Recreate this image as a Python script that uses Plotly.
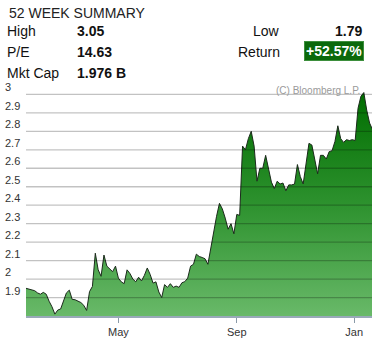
import plotly.graph_objects as go
import pandas as pd

# ---- data ----
START_DATE = "2013-01-25"          # first sample, samples every 3 days
PRICES = [
    1.95, 1.946, 1.943, 1.937, 1.925, 1.918, 1.928, 1.918, 1.88, 1.85,
    1.81, 1.832, 1.838, 1.885, 1.925, 1.94, 1.89, 1.888, 1.882, 1.873,
    1.858, 1.83, 1.932, 1.96, 2.14, 2.05, 2.015, 2.13, 2.07, 2.055,
    2.04, 2.07, 2.005, 1.985, 1.975, 2.05, 2.03, 2.0, 1.985, 2.01,
    1.99, 2.02, 2.06, 2.025, 1.978, 1.985, 1.93, 1.9, 1.97, 1.955,
    1.975, 1.955, 1.962, 1.955, 1.98, 1.986, 2.005, 2.07, 2.08, 2.135,
    2.122, 2.117, 2.11, 2.08, 2.17, 2.27, 2.34, 2.41, 2.38, 2.33,
    2.27, 2.30, 2.245, 2.35, 2.345, 2.72, 2.70, 2.76, 2.80, 2.72,
    2.53, 2.60, 2.60, 2.67, 2.60, 2.525, 2.49, 2.53, 2.515, 2.52,
    2.478, 2.51, 2.51, 2.514, 2.62, 2.555, 2.515, 2.63, 2.735, 2.726,
    2.64, 2.57, 2.67, 2.67, 2.65, 2.69, 2.695, 2.745, 2.83, 2.76,
    2.74, 2.755, 2.75, 2.755, 2.75, 2.925, 2.99, 3.01, 2.915, 2.845,
    2.81,
]
X_RANGE = ["2013-01-25", "2014-01-19 12:00"]
Y_RANGE = [1.8, 3.04]
XTICK_DATES = ["2013-05-01", "2013-09-01", "2014-01-01"]
XTICK_LABELS = ["May", "Sep", "Jan"]
YTICK_VALUES = [1.9, 2.0, 2.1, 2.2, 2.3, 2.4, 2.5, 2.6, 2.7, 2.8, 2.9, 3.0]
YTICK_LABELS = ["1.9", "2", "2.1", "2.2", "2.3", "2.4", "2.5", "2.6", "2.7", "2.8", "2.9", "3"]

SUMMARY_TITLE = "52 WEEK SUMMARY"
HIGH, LOW = "3.05", "1.79"
PE = "14.63"
MKT_CAP = "1.976 B"
RETURN = "+52.57%"
CREDIT = "(C) Bloomberg L.P."

dates = pd.date_range(START_DATE, periods=len(PRICES), freq="3D")

FONT = "Liberation Sans, Arial, sans-serif"
M_L, M_R, M_T, M_B = 26, 6, 87, 22

fig = go.Figure()
fig.add_trace(go.Scatter(
    x=dates, y=PRICES, mode="lines",
    line=dict(color="#1b2a1b", width=1),
    fill="tozeroy",
    fillgradient=dict(type="vertical", start=Y_RANGE[0], stop=3.0,
                      colorscale=[[0, "#6cbb6c"], [0.5, "#2f9330"], [1, "#016e01"]]),
    hoverinfo="skip",
))

shapes = []
for v in YTICK_VALUES:
    shapes.append(dict(type="line", xref="paper", x0=0, x1=1, yref="y", y0=v, y1=v,
                       layer="above", line=dict(color="rgba(0,0,0,0.24)", width=1.3)))

annotations = []
for v, t in zip(YTICK_VALUES, YTICK_LABELS):
    annotations.append(dict(xref="paper", x=0, xanchor="left", xshift=3 - M_L,
                            yref="y", y=v, yanchor="middle", yshift=7,
                            text=t, showarrow=False,
                            font=dict(family=FONT, size=11, color="#333")))


def head(text, px, py, anchor="left", bold=False, size=14, color="#111", **kw):
    annotations.append(dict(xref="paper", x=0, xanchor=anchor, xshift=px - M_L,
                            yref="paper", y=1, yanchor="middle", yshift=M_T - py,
                            text=f"<b>{text}</b>" if bold else text, showarrow=False,
                            font=dict(family=FONT, size=size, color=color), **kw))


head(SUMMARY_TITLE, 7, 12.5, color="#222")
head("High", 5, 30.5)
head(HIGH, 75, 30.5, bold=True)
head("Low", 251, 30.5)
head(LOW, 364, 30.5, anchor="right", bold=True)
head("P/E", 5, 51.5)
head(PE, 75, 51.5, bold=True)
head("Return", 236, 51.5)
head(RETURN, 364, 51, anchor="right", bold=True, color="white",
     bgcolor="#0b690b", bordercolor="#3d8f3d", borderwidth=1, borderpad=1)
head("Mkt Cap", 5, 73)
head(MKT_CAP, 75, 73, bold=True)
head(CREDIT, 362, 90, anchor="right", size=10, color="#9a9a9a")

fig.update_layout(
    width=378, height=344,
    margin=dict(l=M_L, r=M_R, t=M_T, b=M_B),
    paper_bgcolor="white", plot_bgcolor="white",
    showlegend=False,
    shapes=shapes, annotations=annotations,
    xaxis=dict(range=X_RANGE, tickvals=XTICK_DATES, ticktext=XTICK_LABELS,
               showgrid=False, zeroline=False,
               showline=True, linecolor="#98a9b8", linewidth=2, layer="above traces",
               ticks="outside", ticklen=5, tickwidth=1, tickcolor="#8a9aa8",
               tickfont=dict(family=FONT, size=11, color="#333")),
    yaxis=dict(range=Y_RANGE, showgrid=False, zeroline=False, showticklabels=False,
               fixedrange=True),
)

fig.write_html("out.html")
